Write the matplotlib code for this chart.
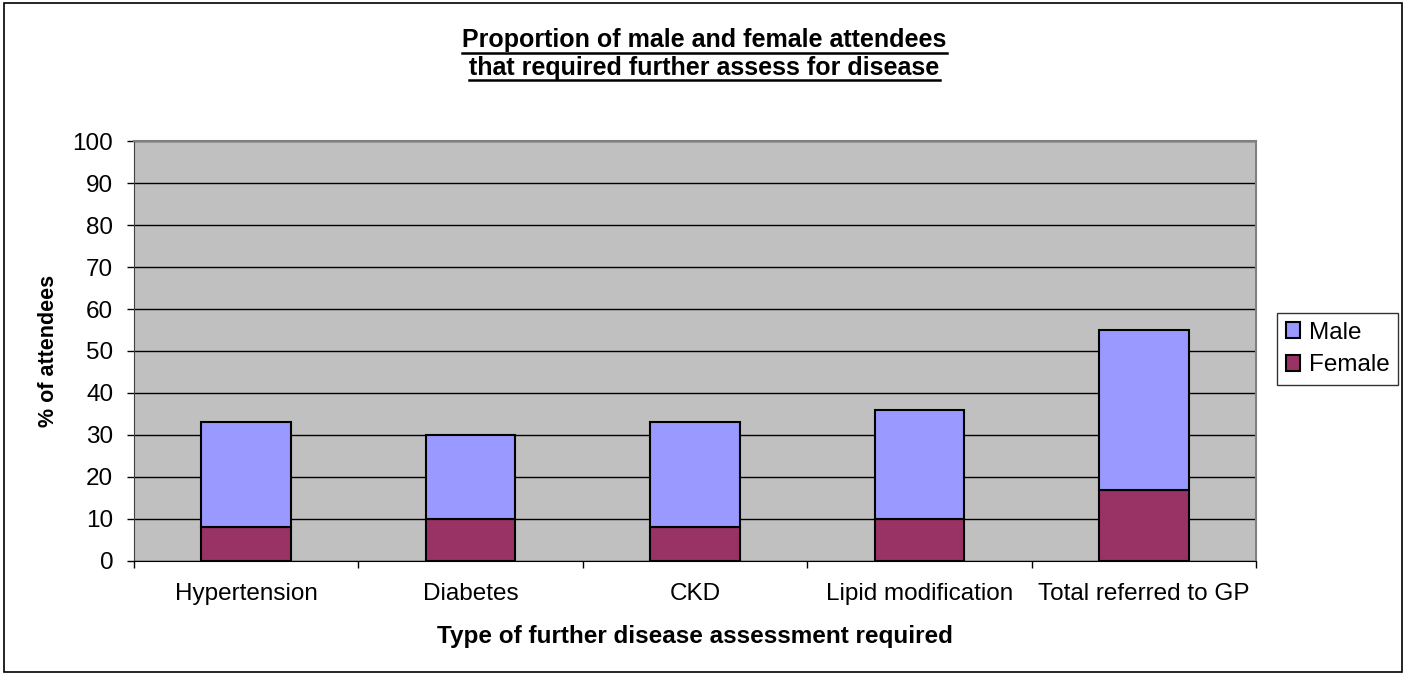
import matplotlib
matplotlib.use("Agg")
import matplotlib.pyplot as plt
from matplotlib.patches import Rectangle
from matplotlib.lines import Line2D
import numpy as np

plt.rcParams['font.family'] = ['Liberation Sans', 'DejaVu Sans']

categories = ["Hypertension", "Diabetes", "CKD", "Lipid modification",
              "Total referred to GP"]
female = [8, 10, 8, 10, 17]
male = [25, 20, 25, 26, 38]
title_lines = ["Proportion of male and female attendees",
               "that required further assess for disease"]

fig = plt.figure(figsize=(14.06, 6.75), dpi=100)
ax = fig.add_axes([0.0953, 0.169, 0.798, 0.622])
ax.set_facecolor("#C0C0C0")

x = np.arange(len(categories))
w = 0.4
b_f = ax.bar(x, female, w, color="#993366", edgecolor="black", linewidth=1.5,
             label="Female", zorder=3)
b_m = ax.bar(x, male, w, bottom=female, color="#9999FF", edgecolor="black",
             linewidth=1.5, label="Male", zorder=3)

ax.set_ylim(0, 100)
ax.set_yticks(np.arange(0, 101, 10))
ax.set_xlim(-0.5, len(categories) - 0.5)
ax.set_xticks(np.arange(-0.5, len(categories), 1))
ax.set_xticklabels([])
ax.set_xticks(x, minor=True)
ax.set_xticklabels(categories, minor=True)
ax.tick_params(axis="x", which="minor", length=0, pad=16, labelsize=17.5)
ax.tick_params(axis="x", which="major", length=5, width=1)
ax.tick_params(axis="y", length=5, width=1, labelsize=17.5, pad=10)

ax.yaxis.grid(True, color="black", linewidth=1)
ax.set_axisbelow(True)
for s in ["top", "right"]:
    ax.spines[s].set_color("#808080")
    ax.spines[s].set_linewidth(1.5)
ax.spines["left"].set_color("#404040")
ax.spines["bottom"].set_color("black")

ax.set_xlabel("Type of further disease assessment required", fontsize=17.5,
              fontweight="bold", labelpad=14)
ax.set_ylabel("% of attendees", fontsize=15.5, fontweight="bold", labelpad=10)

leg = fig.legend([b_m, b_f], ["Male", "Female"], loc="upper left",
                 bbox_to_anchor=(0.9083, 0.5363), fontsize=17.5, frameon=True,
                 fancybox=False, edgecolor="black", handlelength=0.6,
                 handleheight=0.6, handletextpad=0.35, borderpad=0.35,
                 labelspacing=0.45, borderaxespad=0)
leg.get_frame().set_linewidth(1)

# title with underline
title_y = [0.930, 0.889]
texts = []
for line, ty in zip(title_lines, title_y):
    t = fig.text(0.501, ty, line, ha="center", va="baseline", fontsize=18,
                 fontweight="bold")
    texts.append(t)

fig.patches.append(Rectangle((0.003, 0.004), 0.994, 0.992, transform=fig.transFigure,
                             fill=False, edgecolor="black", linewidth=1.2))

fig.canvas.draw()
r = fig.canvas.get_renderer()
for t in texts:
    bb = t.get_window_extent(r)
    y0 = t.get_position()[1] - 5.5 / fig.bbox.height
    fig.lines.append(Line2D([bb.x0 / fig.bbox.width, bb.x1 / fig.bbox.width],
                            [y0, y0], transform=fig.transFigure,
                            color="black", linewidth=1.8))

fig.savefig("out.png", dpi=100)
